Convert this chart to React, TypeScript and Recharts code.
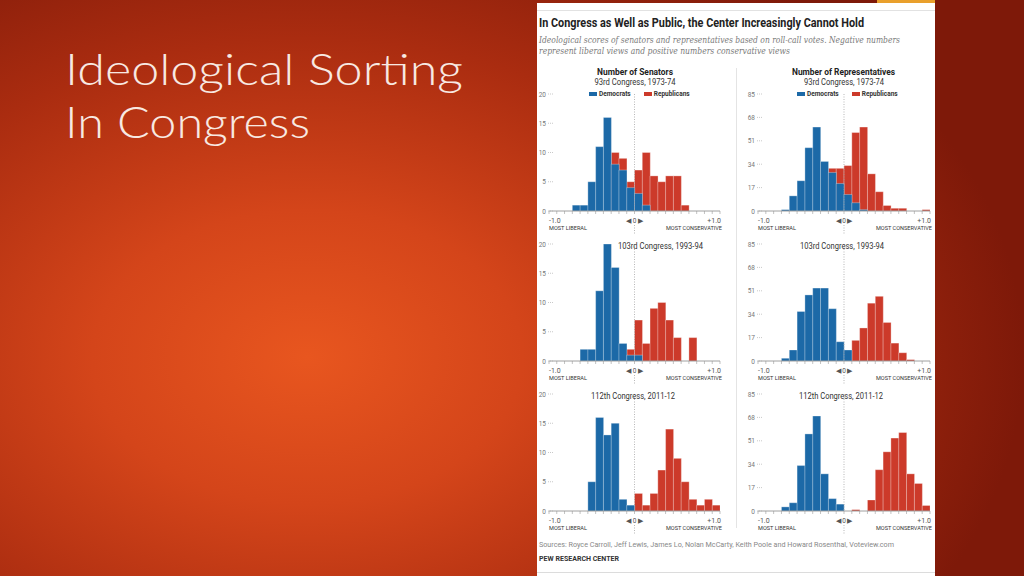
import React from 'react';
import { BarChart, Bar, XAxis, YAxis, ReferenceLine, Legend } from 'recharts';

const BLUE = '#1c69a7';
const RED = '#cc3a2a';

// 22 bins across the -1..+1 ideology scale
const binCount = 22;
const binCenters = Array.from({ length: binCount }, (_, i) => -1 + (2 * i + 1) / binCount);
const binEdges = Array.from({ length: binCount + 1 }, (_, i) => -1 + (2 * i) / binCount);

const senateTicks = [0, 5, 10, 15, 20];
const houseTicks = [0, 17, 34, 51, 68, 85];

const senate93Dem = [0, 0, 0, 1, 1, 5, 11, 16, 8, 7, 4, 3, 1, 0, 0, 0, 0, 0, 0, 0, 0, 0];
const senate93Rep = [0, 0, 0, 0, 0, 0, 0, 0, 10, 9, 5, 7, 10, 6, 5, 6, 6, 1, 0, 0, 0, 0];
const house93Dem = [0, 0, 0, 1, 11, 22, 46, 61, 36, 28, 20, 12, 6, 1, 0, 0, 0, 0, 0, 0, 0, 0];
const house93Rep = [0, 0, 0, 0, 0, 0, 0, 0, 0, 31, 31, 33, 57, 61, 27, 14, 4, 2, 2, 0, 0, 1];

const senate103Dem = [0, 0, 0, 0, 2, 2, 12, 20, 16, 3, 1, 1, 0, 0, 0, 0, 0, 0, 0, 0, 0, 0];
const senate103Rep = [0, 0, 0, 0, 0, 0, 0, 0, 0, 0, 2, 7, 3, 9, 10, 7, 4, 0, 4, 0, 0, 0];
const house103Dem = [0, 0, 0, 2, 8, 36, 48, 53, 53, 38, 14, 8, 0, 0, 0, 0, 0, 0, 0, 0, 0, 0];
const house103Rep = [0, 0, 0, 0, 0, 0, 0, 0, 0, 0, 0, 0, 15, 24, 42, 47, 28, 13, 6, 1, 0, 0];

const senate112Dem = [0, 0, 0, 0, 0, 5, 16, 13, 15, 2, 1, 0, 0, 0, 0, 0, 0, 0, 0, 0, 0, 0];
const senate112Rep = [0, 0, 0, 0, 0, 0, 0, 0, 0, 0, 0, 3, 1, 3, 7, 14, 9, 5, 2, 1, 2, 1];
const house112Dem = [0, 0, 0, 3, 6, 33, 56, 69, 27, 9, 5, 0, 0, 0, 0, 0, 0, 0, 0, 0, 0, 0];
const house112Rep = [0, 0, 0, 0, 0, 0, 0, 0, 0, 0, 0, 0, 1, 0, 8, 30, 43, 53, 57, 27, 20, 4];

const FONT = 'Roboto, "Liberation Sans", sans-serif';

const XTick = (props: any) => {
  const { x, y, payload } = props;
  const v = payload.value;
  const base = { fontFamily: FONT, fill: '#555' };
  if (Math.abs(v + 1) < 1e-9) {
    return (
      <g>
        <text x={x} y={y + 6.5} fontSize={7} textAnchor="start" {...base}>-1.0</text>
        <text x={x} y={y + 13.5} fontSize={6} textAnchor="start" {...base} fill="#333" textLength={38} lengthAdjust="spacingAndGlyphs">MOST LIBERAL</text>
      </g>
    );
  }
  if (Math.abs(v - 1) < 1e-9) {
    return (
      <g>
        <text x={x + 1} y={y + 6.5} fontSize={7} textAnchor="end" {...base}>+1.0</text>
        <text x={x + 2} y={y + 13.5} fontSize={6} textAnchor="end" {...base} fill="#333" textLength={56} lengthAdjust="spacingAndGlyphs">MOST CONSERVATIVE</text>
      </g>
    );
  }
  if (Math.abs(v) < 1e-9) {
    return (
      <text x={x} y={y + 6.5} fontSize={6.5} textAnchor="middle" {...base}>◀ 0 ▶</text>
    );
  }
  return <g />;
};

const YTick = (props: any) => {
  const { x, y, payload } = props;
  return (
    <g>
      <text x={x - 3} y={y + 2.5} fontSize={6.5} textAnchor="end" fontFamily={FONT} fill="#777">
        {payload.value}
      </text>
      <line x1={x - 1} y1={y} x2={x + 5} y2={y} stroke="#aaa" strokeWidth={0.8} strokeDasharray="0.8 1.2" />
    </g>
  );
};

const ZeroLine = (props: any) => {
  const top = Math.min(props.y1, props.y2);
  const bottom = Math.max(props.y1, props.y2);
  return (
    <g>
      <line x1={props.x1} y1={top} x2={props.x1} y2={bottom} stroke="#999" strokeWidth={0.7} strokeDasharray="1 1.5" />
      <line x1={props.x1} y1={bottom + 14} x2={props.x1} y2={bottom + 24} stroke="#999" strokeWidth={0.7} strokeDasharray="1 1.5" />
    </g>
  );
};

const LegendContent = (props: any) => {
  const items = [...(props.payload || [])].sort((a: any, b: any) => String(a.value).localeCompare(String(b.value)));
  return (
    <div style={{ display: 'flex', alignItems: 'center', gap: 13, fontFamily: FONT, fontSize: 6.5, fontWeight: 700, color: '#333', lineHeight: '8px', whiteSpace: 'nowrap' }}>
      {items.map((it: any) => (
        <div key={it.value} style={{ display: 'flex', alignItems: 'center', gap: 2 }}>
          <span style={{ display: 'inline-block', width: 8, height: 4, background: it.color }} />
          <span>{it.value}</span>
        </div>
      ))}
    </div>
  );
};

interface HistProps {
  dem: number[];
  rep: number[];
  yMax: number;
  yTicks: number[];
  yWidth: number;
  rightMargin: number;
  legendLeft?: number;
}

const Histogram = (props: HistProps) => {
  const { dem, rep, yMax, yTicks, yWidth, rightMargin, legendLeft } = props;
  const data = binCenters.map((c, i) => ({ x: c, dem: dem[i], rep: rep[i] }));
  return (
    <BarChart
      width={200}
      height={150}
      data={data}
      margin={{ top: 9, right: rightMargin, bottom: 0, left: 0 }}
      barCategoryGap={0}
      barGap={0}
    >
      <XAxis xAxisId="rep" dataKey="x" type="number" domain={[-1, 1]} allowDataOverflow hide />
      <XAxis
        xAxisId="dem"
        dataKey="x"
        type="number"
        domain={[-1, 1]}
        allowDataOverflow
        ticks={binEdges}
        interval={0}
        height={24}
        tickSize={3}
        axisLine={{ stroke: '#888', strokeWidth: 0.8 }}
        tickLine={{ stroke: '#999', strokeWidth: 0.6 }}
        tick={(p: any) => <XTick {...p} />}
      />
      <YAxis
        domain={[0, yMax]}
        ticks={yTicks}
        interval={0}
        width={yWidth}
        axisLine={false}
        tickLine={false}
        tickSize={0}
        tickMargin={0}
        tick={(p: any) => <YTick {...p} />}
      />
      <ReferenceLine xAxisId="dem" x={0} shape={(p: any) => <ZeroLine {...p} />} />
      <Bar xAxisId="rep" dataKey="rep" name="Republicans" fill={RED} stroke="#fff" strokeOpacity={0.5} strokeWidth={0.6} isAnimationActive={false} />
      <Bar xAxisId="dem" dataKey="dem" name="Democrats" fill={BLUE} stroke="#fff" strokeOpacity={0.5} strokeWidth={0.6} isAnimationActive={false} />
      {legendLeft !== undefined && (
        <Legend
          layout="horizontal"
          verticalAlign="middle"
          align="center"
          content={(p: any) => <LegendContent {...p} />}
          wrapperStyle={{ position: 'absolute', top: 5, left: legendLeft, width: 'auto', height: 'auto' }}
        />
      )}
    </BarChart>
  );
};

const rows = [
  { top: 85, senate: [senate93Dem, senate93Rep], house: [house93Dem, house93Rep], legend: true },
  { top: 235, senate: [senate103Dem, senate103Rep], house: [house103Dem, house103Rep], legend: false },
  { top: 385, senate: [senate112Dem, senate112Rep], house: [house112Dem, house112Rep], legend: false },
];

export default function App() {
  return (
    <div
      style={{
        position: 'absolute',
        left: 0,
        top: 0,
        width: 1024,
        height: 576,
        overflow: 'hidden',
        background:
          'radial-gradient(ellipse 70% 85% at 30% 62%, #e8561f 0%, #d4451a 30%, #aa2c10 65%, #7e1909 100%)',
      }}
    >
      <div style={{ position: 'absolute', left: 877, top: 0, width: 58, height: 3, background: '#e9a02c' }} />
      <div style={{ position: 'absolute', left: 537, top: 3, width: 398, height: 573, background: '#fff' }} />

      {rows.map((r, i) => (
        <React.Fragment key={i}>
          <div style={{ position: 'absolute', left: 537, top: r.top }}>
            <Histogram dem={r.senate[0]} rep={r.senate[1]} yMax={20} yTicks={senateTicks} yWidth={12} rightMargin={17} legendLeft={r.legend ? 52 : undefined} />
          </div>
          <div style={{ position: 'absolute', left: 737, top: r.top }}>
            <Histogram dem={r.house[0]} rep={r.house[1]} yMax={85} yTicks={houseTicks} yWidth={21} rightMargin={7} legendLeft={r.legend ? 60 : undefined} />
          </div>
        </React.Fragment>
      ))}

      <svg width={1024} height={576} style={{ position: 'absolute', left: 0, top: 0, pointerEvents: 'none' }}>
        <g fontFamily='Lato, "Open Sans", sans-serif' fontWeight={300} fill="#f8e9e2" fontSize={44}>
          <text x={65} y={85} textLength={398} lengthAdjust="spacingAndGlyphs">Ideological Sorting</text>
          <text x={65} y={138} textLength={245} lengthAdjust="spacingAndGlyphs">In Congress</text>
        </g>

        <line x1={537} y1={10.5} x2={935} y2={10.5} stroke="#e2e2e2" strokeWidth={1} />
        <line x1={736.5} y1={68} x2={736.5} y2={528} stroke="#e4e4e4" strokeWidth={1} />
        <line x1={537} y1={572.5} x2={935} y2={572.5} stroke="#dcdcdc" strokeWidth={1} />

        <text x={539} y={27} fontFamily={FONT} fontWeight={700} fontSize={12.5} fill="#222" textLength={325} lengthAdjust="spacingAndGlyphs">
          In Congress as Well as Public, the Center Increasingly Cannot Hold
        </text>
        <g fontFamily='Georgia, "DejaVu Serif", serif' fontStyle="italic" fontSize={9.5} fill="#7a7a7a">
          <text x={539} y={43} textLength={361} lengthAdjust="spacingAndGlyphs">
            Ideological scores of senators and representatives based on roll-call votes. Negative numbers
          </text>
          <text x={539} y={54} textLength={251} lengthAdjust="spacingAndGlyphs">
            represent liberal views and positive numbers conservative views
          </text>
        </g>

        <g fontFamily={FONT} fontSize={8.5} fill="#222" textAnchor="middle">
          <text x={635} y={75} fontWeight={700} textLength={76} lengthAdjust="spacingAndGlyphs">Number of Senators</text>
          <text x={635} y={85} fill="#333" textLength={81} lengthAdjust="spacingAndGlyphs">93rd Congress, 1973-74</text>
          <text x={843.5} y={75} fontWeight={700} textLength={103} lengthAdjust="spacingAndGlyphs">Number of Representatives</text>
          <text x={844} y={85} fill="#333" textLength={80} lengthAdjust="spacingAndGlyphs">93rd Congress, 1973-74</text>
          <text x={660.5} y={249} fill="#333" textLength={85} lengthAdjust="spacingAndGlyphs">103rd Congress, 1993-94</text>
          <text x={842} y={249} fill="#333" textLength={84} lengthAdjust="spacingAndGlyphs">103rd Congress, 1993-94</text>
          <text x={633} y={399} fill="#333" textLength={84} lengthAdjust="spacingAndGlyphs">112th Congress, 2011-12</text>
          <text x={841} y={399} fill="#333" textLength={84} lengthAdjust="spacingAndGlyphs">112th Congress, 2011-12</text>
        </g>

        <text x={539} y={547} fontFamily={FONT} fontSize={7} fill="#888" textLength={355} lengthAdjust="spacingAndGlyphs">
          Sources: Royce Carroll, Jeff Lewis, James Lo, Nolan McCarty, Keith Poole and Howard Rosenthal, Voteview.com
        </text>
        <text x={539} y={561} fontFamily={FONT} fontSize={7.5} fontWeight={700} fill="#333" textLength={80} lengthAdjust="spacingAndGlyphs">
          PEW RESEARCH CENTER
        </text>
      </svg>
    </div>
  );
}
